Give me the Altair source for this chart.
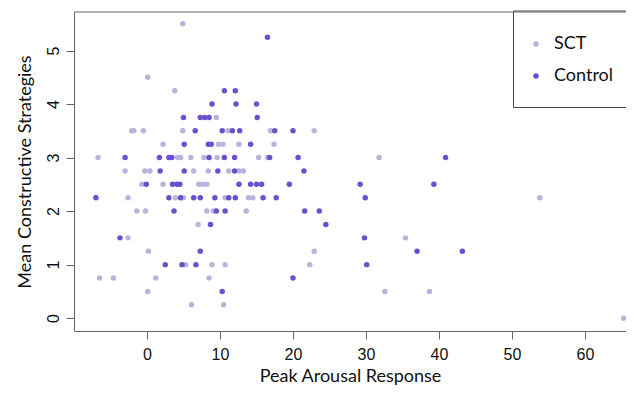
import altair as alt
import pandas as pd

# SCT group (x = Peak Arousal Response, y = Mean Constructive Strategies)
sct_x = [4.9, 0.1, 3.8, 9.5,
         -2.1, -1.8, -0.5, 4.9, 11.1, 16.9, 22.9,
         2.2, 9.8, 10.4, 12.6, 17.4,
         -6.7, 4.2, 4.6, 6.0, 7.8, 9.6, 15.3, 16.5, 31.8,
         -3.0, -0.3, 0.4, 6.4, 8.4, 11.2, 12.6, 13.2,
         -0.7, 2.2, 7.1, 7.6, 8.2,
         -2.6, 3.9, 5.0, 10.7, 13.9, 14.5, 53.8,
         -1.4, -0.2, 8.2, 9.1, 13.6,
         7.0,
         -2.6, 35.4,
         0.2, 22.9,
         5.3, 8.9, 10.7, 22.3,
         -6.5, -4.6, 1.2, 8.5,
         0.1, 32.6, 38.7,
         6.1, 10.5,
         65.3]
sct_y = [5.5, 4.5, 4.25, 3.75,
         3.5, 3.5, 3.5, 3.5, 3.5, 3.5, 3.5,
         3.25, 3.25, 3.25, 3.25, 3.25,
         3, 3, 3, 3, 3, 3, 3, 3, 3,
         2.75, 2.75, 2.75, 2.75, 2.75, 2.75, 2.75, 2.75,
         2.5, 2.5, 2.5, 2.5, 2.5,
         2.25, 2.25, 2.25, 2.25, 2.25, 2.25, 2.25,
         2, 2, 2, 2, 2,
         1.75,
         1.5, 1.5,
         1.25, 1.25,
         1, 1, 1, 1,
         0.75, 0.75, 0.75, 0.75,
         0.5, 0.5, 0.5,
         0.25, 0.25,
         0]

# Control group
ctl_x = [16.5,
         10.6, 12.1,
         8.9, 12.2, 15.0,
         5.0, 7.3, 7.9, 8.5, 15.1,
         6.6, 10.3, 11.7, 12.7, 17.5, 20.0,
         5.1, 8.4, 8.8, 14.2,
         -3.0, 1.7, 3.0, 3.4, 8.5, 10.6, 12.0, 16.8, 20.7, 40.9,
         1.8, 5.1, 9.7, 12.0, 21.5,
         -0.1, 3.5, 4.1, 4.5, 12.6, 14.2, 15.0, 15.7, 19.5, 29.2, 39.3,
         -7.0, 3.0, 4.6, 6.4, 7.3, 9.3, 11.2, 12.1, 15.9, 17.7, 29.9,
         3.7, 9.5, 10.7, 21.6, 23.6,
         8.7, 24.5,
         -3.7, 29.8,
         7.3, 37.0, 43.2,
         2.5, 4.8, 6.7, 30.1,
         20.0,
         10.3]
ctl_y = [5.25,
         4.25, 4.25,
         4, 4, 4,
         3.75, 3.75, 3.75, 3.75, 3.75,
         3.5, 3.5, 3.5, 3.5, 3.5, 3.5,
         3.25, 3.25, 3.25, 3.25,
         3, 3, 3, 3, 3, 3, 3, 3, 3, 3,
         2.75, 2.75, 2.75, 2.75, 2.75,
         2.5, 2.5, 2.5, 2.5, 2.5, 2.5, 2.5, 2.5, 2.5, 2.5, 2.5,
         2.25, 2.25, 2.25, 2.25, 2.25, 2.25, 2.25, 2.25, 2.25, 2.25, 2.25,
         2, 2, 2, 2, 2,
         1.75, 1.75,
         1.5, 1.5,
         1.25, 1.25, 1.25,
         1, 1, 1, 1,
         0.75,
         0.5]

groups = ["SCT", "Control"]
colors = ["#b6b6dc", "#6a4fce"]
x_ticks = [0, 10, 20, 30, 40, 50, 60]
y_ticks = [0, 1, 2, 3, 4, 5]

df = pd.concat([
    pd.DataFrame({"x": sct_x, "y": sct_y, "group": "SCT"}),
    pd.DataFrame({"x": ctl_x, "y": ctl_y, "group": "Control"}),
], ignore_index=True)
df["order"] = range(len(df))

W, H = 552, 319
GRAY = "#666666"

# legend frame (runs on past the right edge, as in the reference)
legend_box = alt.Chart(pd.DataFrame({"a": [0]})).mark_rect(
    fill="white", stroke="#444444", strokeWidth=1
).encode(x=alt.value(439.5), x2=alt.value(600), y=alt.value(-1), y2=alt.value(95.5))

points = alt.Chart(df).mark_circle(size=30, opacity=1).encode(
    x=alt.X("x:Q", scale=alt.Scale(domain=[-10, 65.62], nice=False, zero=False),
            axis=alt.Axis(values=x_ticks, title="Peak Arousal Response")),
    y=alt.Y("y:Q", scale=alt.Scale(domain=[-0.24, 5.72], nice=False, zero=False),
            axis=alt.Axis(values=y_ticks, title="Mean Constructive Strategies",
                          labelAngle=-90)),
    color=alt.Color("group:N", scale=alt.Scale(domain=groups, range=colors),
                    legend=alt.Legend(title=None, orient="none", legendX=432, legendY=2,
                                      padding=21,
                                      symbolType="circle", symbolSize=30,
                                      labelFont="Lato", labelFontSize=18, labelColor="#111",
                                      labelOffset=9, rowPadding=14)),
    order="order:Q",
)

top_rule = alt.Chart(pd.DataFrame({"a": [0]})).mark_rule(color=GRAY, strokeWidth=1).encode(
    x=alt.value(0), x2=alt.value(W), y=alt.value(0)
)

chart = alt.layer(legend_box, points, top_rule).properties(
    width=W, height=H,
    autosize=alt.AutoSizeParams(type="none"),
    padding={"left": 66, "top": 4, "right": 0, "bottom": 56},
).configure_view(stroke=None).configure_axis(
    grid=False, domainColor=GRAY, tickColor=GRAY, tickSize=8,
    labelFont="Liberation Sans", labelFontSize=16, labelColor="#111",
    titleFont="Lato", titleFontSize=18, titleFontWeight="normal", titleColor="#111",
).configure_axisX(labelPadding=7, titlePadding=5).configure_axisY(labelPadding=5, titlePadding=11)

chart.save("out.html", embed_options={"renderer": "svg", "actions": False})
